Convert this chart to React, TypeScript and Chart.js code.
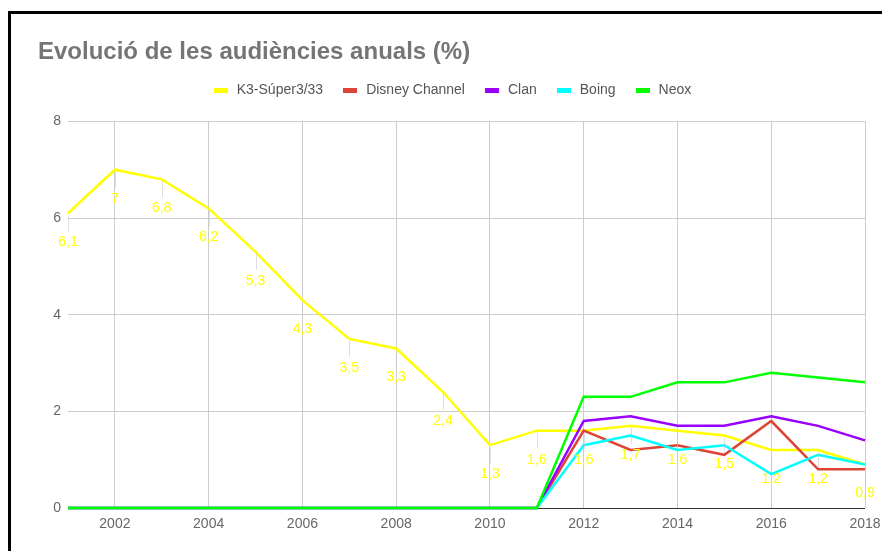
import React, { useEffect, useRef } from "react";
import { Chart, registerables } from "chart.js";

Chart.register(...registerables);

const years = ["2001","2002","2003","2004","2005","2006","2007","2008","2009","2010","2011","2012","2013","2014","2015","2016","2017","2018"];
const k3 = [6.1, 7, 6.8, 6.2, 5.3, 4.3, 3.5, 3.3, 2.4, 1.3, 1.6, 1.6, 1.7, 1.6, 1.5, 1.2, 1.2, 0.9];
const disney = [0, 0, 0, 0, 0, 0, 0, 0, 0, 0, 0, 1.6, 1.2, 1.3, 1.1, 1.8, 0.8, 0.8];
const clan = [0, 0, 0, 0, 0, 0, 0, 0, 0, 0, 0, 1.8, 1.9, 1.7, 1.7, 1.9, 1.7, 1.4];
const boing = [0, 0, 0, 0, 0, 0, 0, 0, 0, 0, 0, 1.3, 1.5, 1.2, 1.3, 0.7, 1.1, 0.9];
const neox = [0, 0, 0, 0, 0, 0, 0, 0, 0, 0, 0, 2.3, 2.3, 2.6, 2.6, 2.8, 2.7, 2.6];
const seriesNames = ["K3-Súper3/33", "Disney Channel", "Clan", "Boing", "Neox"];
const seriesColors = ["#ffff00", "#db4437", "#9900ff", "#00ffff", "#00ff00"];
const yTicks = [0, 2, 4, 6, 8];
const title = "Evolució de les audiències anuals (%)";

const FONT = "'Liberation Sans', Arial, Helvetica, sans-serif";

function legendSwatch(color: string) {
  const c = document.createElement("canvas");
  c.width = 14;
  c.height = 5;
  const g = c.getContext("2d");
  if (g) {
    g.fillStyle = color;
    g.fillRect(0, 0, 14, 5);
  }
  return c;
}

const labelPlugin = {
  id: "pointLabels",
  afterDatasetsDraw(chart: any) {
    const ctx = chart.ctx;
    const meta = chart.getDatasetMeta(0);
    const data = chart.data.datasets[0].data as number[];
    ctx.save();
    meta.data.forEach((pt: any, i: number) => {
      const x = pt.x;
      const y = pt.y;
      ctx.strokeStyle = "rgba(200,200,200,0.6)";
      ctx.lineWidth = 1;
      ctx.beginPath();
      ctx.moveTo(Math.round(x) + 0.5, y + 2);
      ctx.lineTo(Math.round(x) + 0.5, y + 18);
      ctx.stroke();
      ctx.fillStyle = "#ffff00";
      ctx.font = `14px ${FONT}`;
      ctx.textAlign = "center";
      ctx.textBaseline = "middle";
      ctx.fillText(String(data[i]).replace(".", ","), x, y + 29);
    });
    ctx.restore();
  },
};

const legendSpacer = {
  id: "legendSpacer",
  afterInit(chart: any) {
    const legend = chart.legend;
    if (!legend) return;
    const fit = legend.fit;
    legend.fit = function () {
      fit.call(legend);
      legend.height += 14;
    };
  },
};

export default function App() {
  const ref = useRef<HTMLCanvasElement | null>(null);
  useEffect(() => {
    if (!ref.current) return;
    const all = [k3, disney, clan, boing, neox];
    const swatches = seriesColors.map(legendSwatch);
    const chart = new Chart(ref.current, {
      type: "line",
      data: {
        labels: years,
        datasets: all.map((d, i) => ({
          label: seriesNames[i],
          data: d,
          borderColor: seriesColors[i],
          backgroundColor: seriesColors[i],
          borderWidth: 2.5,
          pointRadius: 0,
          tension: 0,
          clip: false,
          order: 4 - i,
        })),
      },
      options: {
        animation: false,
        responsive: false,
        layout: { padding: { left: 27, right: 17, top: 0, bottom: 0 } },
        plugins: {
          tooltip: { enabled: false },
          title: {
            display: true,
            text: title,
            align: "start",
            color: "#757575",
            font: { family: FONT, size: 24, weight: "bold", lineHeight: 1.1 },
            padding: { top: 25, bottom: 0 },
          },
          legend: {
            display: true,
            position: "top",
            align: "center",
            labels: {
              usePointStyle: true,
              pointStyleWidth: 18,
              boxHeight: 5,
              padding: 18,
              color: "#555555",
              font: { family: FONT, size: 14 },
              generateLabels(chart: any) {
                const items = (Chart.defaults.plugins.legend.labels as any).generateLabels(chart);
                return items
                  .map((it: any) => ({ ...it, lineWidth: 0, pointStyle: swatches[it.datasetIndex], rotation: 0 }))
                  .sort((a: any, b: any) => a.datasetIndex - b.datasetIndex);
              },
            },
          },
        },
        scales: {
          x: {
            type: "category",
            offset: false,
            border: { display: false },
            grid: {
              drawTicks: false,
              color: (c: any) => (c.index % 2 === 1 ? "#cccccc" : "rgba(0,0,0,0)"),
            },
            ticks: {
              autoSkip: false,
              maxRotation: 0,
              padding: 8,
              color: "#666666",
              font: { family: FONT, size: 14 },
              callback: (_v: any, i: number) => (i % 2 === 1 ? years[i] : ""),
            },
            afterFit(scale: any) {
              scale.height = 43;
              scale.paddingRight = 0;
              scale.paddingLeft = 0;
            },
          },
          y: {
            min: 0,
            max: 8,
            border: { display: false },
            grid: {
              drawTicks: false,
              color: (c: any) => (c.tick && c.tick.value === 0 ? "#333333" : "#cccccc"),
            },
            ticks: {
              stepSize: 2,
              padding: 7,
              color: "#666666",
              font: { family: FONT, size: 14 },
              callback: (v: any) => (yTicks.includes(Number(v)) ? String(v) : ""),
            },
            afterFit(scale: any) {
              scale.width = 30;
            },
          },
        },
      },
      plugins: [labelPlugin, legendSpacer],
    });
    return () => chart.destroy();
  }, []);

  return (
    <div
      style={{
        position: "fixed",
        left: 8,
        top: 11,
        right: -20,
        bottom: -20,
        borderTop: "3px solid #000",
        borderLeft: "3px solid #000",
        background: "#fff",
      }}
    >
      <canvas ref={ref} width={871} height={537} style={{ display: "block", width: 871, height: 537 }} />
    </div>
  );
}
